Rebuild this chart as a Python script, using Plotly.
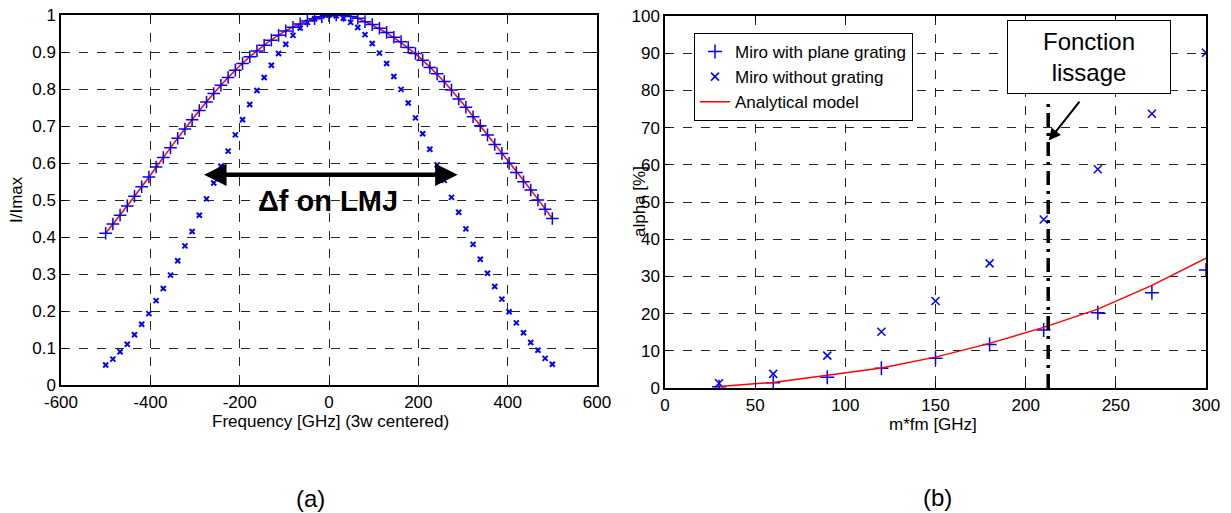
import plotly.graph_objects as go

W, H = 1231, 513

# ---------------- Left panel data (a) ----------------
freq_step = 1000 / 62
freq = [round(-500 + i * freq_step, 2) for i in range(63)]
with_grating = [0.41, 0.435, 0.459, 0.484, 0.51, 0.536, 0.562, 0.589, 0.615, 0.641,
                0.667, 0.692, 0.717, 0.742, 0.765, 0.788, 0.81, 0.831, 0.851, 0.869,
                0.887, 0.903, 0.918, 0.932, 0.945, 0.957, 0.967, 0.976, 0.984, 0.99,
                0.995, 0.998, 1.0, 0.999, 0.996, 0.991, 0.982, 0.974, 0.964, 0.953,
                0.94, 0.928, 0.912, 0.896, 0.878, 0.858, 0.841, 0.82, 0.797, 0.773,
                0.751, 0.725, 0.701, 0.676, 0.65, 0.626, 0.599, 0.574, 0.549, 0.527,
                0.50, 0.475, 0.45]
without_grating = [0.054, 0.070, 0.090, 0.110, 0.136, 0.164, 0.193, 0.228, 0.261, 0.297,
                   0.336, 0.376, 0.415, 0.459, 0.503, 0.546, 0.591, 0.632, 0.676, 0.717,
                   0.758, 0.796, 0.831, 0.864, 0.896, 0.921, 0.945, 0.965, 0.980, 0.990,
                   0.997, 1.0, 0.998, 0.991, 0.98, 0.966, 0.947, 0.923, 0.897, 0.869,
                   0.834, 0.799, 0.762, 0.722, 0.679, 0.637, 0.595, 0.553, 0.507, 0.467,
                   0.422, 0.380, 0.340, 0.302, 0.266, 0.232, 0.198, 0.168, 0.141, 0.115,
                   0.094, 0.072, 0.056]
model_freq = [-500, -450, -400, -350, -300, -250, -200, -150, -100, -50, 0,
              50, 100, 150, 200, 250, 300, 350, 400, 450, 500]
model_val = [0.41, 0.487, 0.567, 0.649, 0.727, 0.799, 0.862, 0.914, 0.955, 0.983, 0.997,
             0.996, 0.971, 0.935, 0.888, 0.83, 0.76, 0.683, 0.607, 0.53, 0.45]
freq_ticks = [-600, -400, -200, 0, 200, 400, 600]
freq_ticktext = ["-600", "-400", "-200", "0", "200", "400", "600"]

# ---------------- Right panel data (b) ----------------
mfm = [30, 60, 90, 120, 150, 180, 210, 240, 270, 300]
alpha_plane = [0.35, 1.4, 2.9, 5.3, 8.0, 11.7, 15.6, 20.2, 25.6, 31.7]
alpha_none = [1.3, 3.8, 8.7, 15.1, 23.4, 33.5, 45.3, 58.8, 73.7, 90.1]
alpha_model = [0.4, 1.5, 3.4, 5.4, 8.3, 12.0, 16.3, 21.2, 27.6, 34.9]
lissage_x = [212.5, 212.5]
lissage_y = [0, 77.5]

FONT = "Liberation Sans, Arial, sans-serif"
BLUE = "rgb(0,0,255)"

fig = go.Figure()

# left traces
fig.add_trace(go.Scatter(x=freq, y=without_grating, mode="markers", xaxis="x", yaxis="y",
                         marker=dict(symbol="x-thin", size=5, color=BLUE,
                                     line=dict(color=BLUE, width=2)), showlegend=False))
fig.add_trace(go.Scatter(x=model_freq, y=model_val, mode="lines", xaxis="x", yaxis="y",
                         line=dict(color="red", width=1.5, shape="spline"), showlegend=False))
fig.add_trace(go.Scatter(x=freq, y=with_grating, mode="markers", xaxis="x", yaxis="y",
                         marker=dict(symbol="cross-thin", size=9, color=BLUE,
                                     line=dict(color=BLUE, width=1.5)), showlegend=False))

# right traces
fig.add_trace(go.Scatter(x=mfm, y=alpha_plane, mode="markers", xaxis="x2", yaxis="y2",
                         name="Miro with plane grating",
                         marker=dict(symbol="cross-thin", size=10, color=BLUE,
                                     line=dict(color=BLUE, width=1.5))))
fig.add_trace(go.Scatter(x=mfm, y=alpha_none, mode="markers", xaxis="x2", yaxis="y2",
                         name="Miro without grating",
                         marker=dict(symbol="x-thin", size=8, color=BLUE,
                                     line=dict(color=BLUE, width=1.5))))
fig.add_trace(go.Scatter(x=mfm, y=alpha_model, mode="lines", xaxis="x2", yaxis="y2",
                         name="Analytical model", line=dict(color="red", width=1.5)))
fig.add_trace(go.Scatter(x=lissage_x, y=lissage_y, mode="lines", xaxis="x2", yaxis="y2",
                         showlegend=False,
                         line=dict(color="black", width=3.5, dash="14px,6px,3px,6px")))

axis_common = dict(showline=True, linecolor="black", linewidth=1.5, mirror="ticks",
                   ticks="inside", ticklen=5, tickcolor="black",
                   showgrid=True, gridcolor="rgba(0,0,0,0.85)", griddash="dash", gridwidth=1,
                   zeroline=False, automargin=False,
                   tickfont=dict(family=FONT, size=17, color="black"))

def px2x(p):
    return p / W

def px2y(p):
    return 1 - p / H

fig.update_layout(
    width=W, height=H, margin=dict(l=0, r=0, t=0, b=0, autoexpand=False),
    paper_bgcolor="white", plot_bgcolor="white",
    font=dict(family=FONT, color="black"),
    xaxis=dict(domain=[px2x(61), px2x(597)], range=[-600, 600], tickvals=freq_ticks,
               ticktext=freq_ticktext, anchor="y", ticklabelstandoff=1, **axis_common),
    yaxis=dict(domain=[px2y(385), px2y(15)], range=[0, 1], dtick=0.1, anchor="x",
               **axis_common),
    xaxis2=dict(domain=[px2x(665), px2x(1206)], range=[0, 300], dtick=50, anchor="y2",
                ticklabelstandoff=1, **axis_common),
    yaxis2=dict(domain=[px2y(388), px2y(16)], range=[0, 100], dtick=10, anchor="x2",
                **axis_common),
    legend=dict(x=px2x(694), y=px2y(33), xanchor="left", yanchor="top",
                bgcolor="white", bordercolor="black", borderwidth=1,
                font=dict(family=FONT, size=17, color="black"),
                itemwidth=30, tracegroupgap=0),
)

def lab(text, px, py, size, **kw):
    d = dict(text=text, x=px2x(px), y=px2y(py), xref="paper", yref="paper",
             xanchor="center", yanchor="middle", showarrow=False, font=dict(size=size))
    d.update(kw)
    return d

annotations = [
    lab("Frequency [GHz] (3w centered)", 330, 421, 17),
    lab("I/Imax", 16, 200, 17, textangle=-90),
    lab("m*fm [GHz]", 933, 424, 17),
    lab("alpha [%]", 639, 202, 17, textangle=-90),
    lab("(a)", 310, 498, 24),
    lab("(b)", 938, 497, 24),
    # Delta f arrow
    dict(x=288, y=0.568, ax=-283, ay=0.568, xref="x", yref="y", axref="x", ayref="y",
         text="", showarrow=True, arrowhead=2, arrowside="end+start", arrowwidth=4.5,
         arrowsize=1, arrowcolor="black"),
    dict(text="<b>Δf on LMJ</b>", x=-3, y=0.497, xref="x", yref="y", showarrow=False,
         xanchor="center", yanchor="middle", font=dict(size=29, color="black")),
    # Fonction lissage box
    lab("Fonction<br>lissage", 1089, 57, 24, bgcolor="white", bordercolor="black",
        borderwidth=1, width=160, height=70, align="center"),
    dict(x=212.8, y=66.5, ax=230.5, ay=77.4, xref="x2", yref="y2", axref="x2", ayref="y2",
         text="", showarrow=True, arrowhead=2, arrowwidth=2, arrowsize=1.2,
         arrowcolor="black"),
]
fig.update_layout(annotations=annotations)

fig.write_html("out.html")
